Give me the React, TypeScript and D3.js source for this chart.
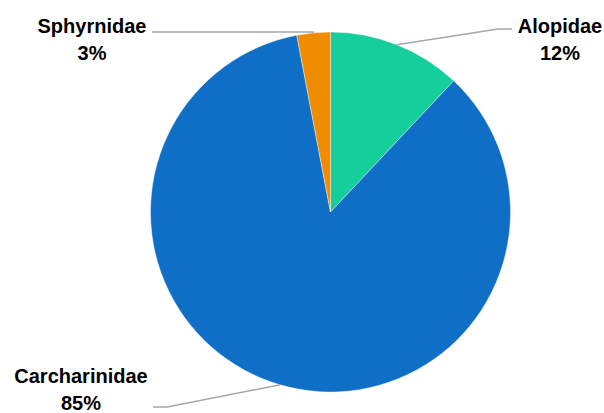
import React from "react";
import * as d3 from "d3";

const categories = ["Alopidae", "Carcharinidae", "Sphyrnidae"];
const values = [12, 85, 3];
const colors = ["#14CF9B", "#0F6FC6", "#F08C00"];

const W = 604;
const H = 413;
const cx = 330.5;
const cy = 212;
const R = 180;

// label placement: [text center x, first baseline y, elbow x, elbow y, end x]
const labelPos: Record<string, { tx: number; ty: number; pts: [number, number][] }> = {
  Alopidae: { tx: 560, ty: 33, pts: [[498, 29], [512, 29]] },
  Carcharinidae: { tx: 81, ty: 383, pts: [[167, 407], [153, 407]] },
  Sphyrnidae: { tx: 92, ty: 33, pts: [[313, 32], [152, 32]] },
};

export default function App() {
  const data = categories.map((c, i) => ({ name: c, value: values[i], color: colors[i] }));
  const pie = d3.pie<any>().sort(null).value((d) => d.value);
  const arcs = pie(data);
  const arc = d3.arc<any>().innerRadius(0).outerRadius(R);
  const total = d3.sum(values);
  const font = "'Liberation Sans', Arial, sans-serif";
  return (
    <svg
      width={W}
      height={H}
      style={{ position: "absolute", left: 0, top: 0, background: "#fff" }}
    >
      <g transform={`translate(${cx},${cy})`}>
        {arcs.map((a, i) => (
          <path key={i} d={arc(a) as string} fill={a.data.color} stroke="#fff" strokeWidth={0.4} />
        ))}
      </g>
      {arcs.map((a, i) => {
        const mid = (a.startAngle + a.endAngle) / 2;
        const ex = cx + R * Math.sin(mid);
        const ey = cy - R * Math.cos(mid);
        const lp = labelPos[a.data.name];
        const line = d3.line()([[ex, ey], ...lp.pts]);
        const pct = Math.round((a.data.value / total) * 100) + "%";
        return (
          <g key={"l" + i}>
            <path d={line as string} fill="none" stroke="#A6A6A6" strokeWidth={1.5} />
            <text
              x={lp.tx}
              y={lp.ty}
              textAnchor="middle"
              fontFamily={font}
              fontWeight="bold"
              fontSize={20}
              fill="#000"
            >
              <tspan x={lp.tx}>{a.data.name}</tspan>
              <tspan x={lp.tx} dy={27}>{pct}</tspan>
            </text>
          </g>
        );
      })}
    </svg>
  );
}
